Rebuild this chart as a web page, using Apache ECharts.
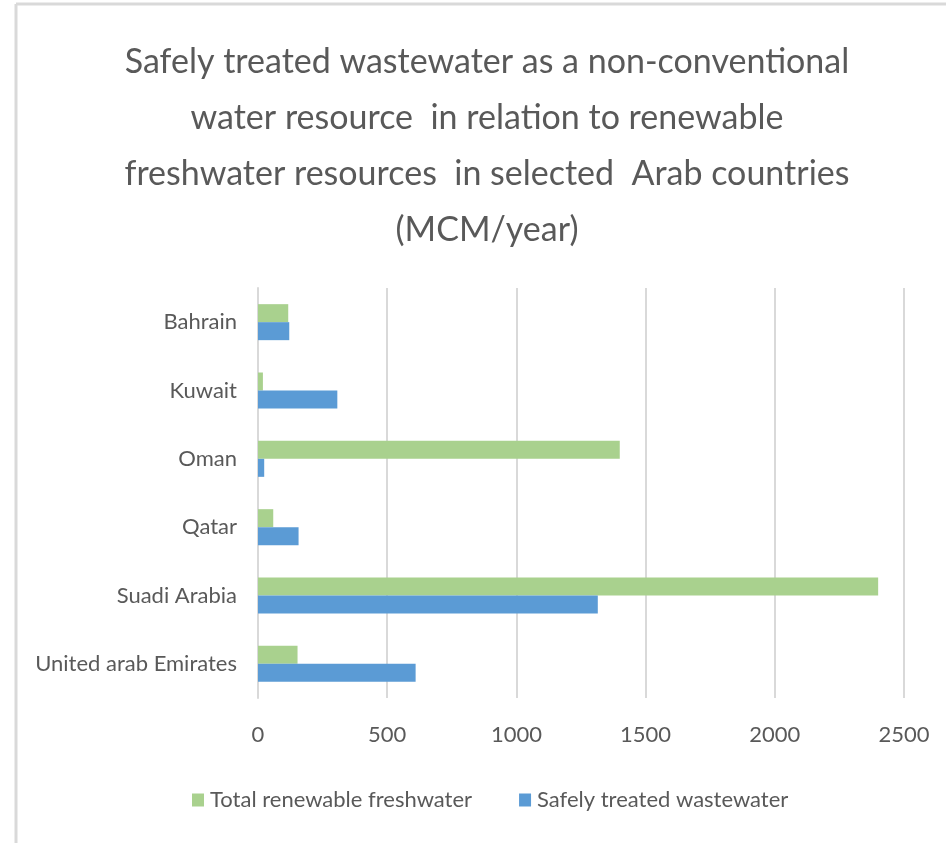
<!DOCTYPE html>
<html>
<head>
<meta charset="utf-8">
<script src="https://cdn.jsdelivr.net/npm/echarts@6/dist/echarts.min.js"></script>
<style>
  html, body { margin: 0; padding: 0; background: #ffffff; }
  #chart { width: 946px; height: 843px; }
</style>
</head>
<body>
<div id="chart"></div>
<script>
// Countries, top to bottom
const countries = ['Bahrain', 'Kuwait', 'Oman', 'Qatar', 'Suadi Arabia', 'United arab Emirates'];
// MCM/year
const renewableFreshwater = [117, 19, 1400, 59, 2400, 153];
const treatedWastewater = [121, 307, 24, 157, 1315, 610];
const xTicks = [0, 500, 1000, 1500, 2000, 2500];

const titleLines = [
  'Safely treated wastewater as a non-conventional',
  'water resource  in relation to renewable',
  'freshwater resources  in selected  Arab countries',
  '(MCM/year)'
];

const FONT = 'Lato, "Liberation Sans", Arial, sans-serif';
const TEXT = '#595959';

const chart = echarts.init(document.getElementById('chart'), null, { renderer: 'canvas' });
chart.setOption({
  backgroundColor: '#ffffff',
  animation: false,
  legend: {
    bottom: 27,
    left: 187,
    itemWidth: 12,
    itemHeight: 13,
    itemGap: 47,
    icon: 'rect',
    textStyle: { fontFamily: FONT, fontSize: 22, color: TEXT, padding: [0, 0, 0, 1] },
    data: ['Total renewable freshwater', 'Safely treated wastewater']
  },
  grid: { left: 258, right: 42, top: 288, bottom: 145, containLabel: false },
  xAxis: {
    type: 'value',
    min: xTicks[0],
    max: xTicks[xTicks.length - 1],
    interval: 500,
    axisLine: { show: false },
    axisTick: { show: false },
    splitLine: { lineStyle: { color: '#d9d9d9', width: 2 } },
    axisLabel: { fontFamily: FONT, fontSize: 22, color: TEXT, margin: 26, formatter: v => String(v) }
  },
  yAxis: {
    type: 'category',
    inverse: true,
    data: countries,
    axisLine: { show: true, lineStyle: { color: '#d9d9d9', width: 2 } },
    axisTick: { show: false },
    axisLabel: { fontFamily: FONT, fontSize: 22, color: TEXT, margin: 21 }
  },
  series: [
    {
      name: 'Total renewable freshwater',
      type: 'bar',
      data: renewableFreshwater,
      barWidth: 18,
      barGap: '0%',
      itemStyle: { color: '#a9d18e' }
    },
    {
      name: 'Safely treated wastewater',
      type: 'bar',
      data: treatedWastewater,
      barWidth: 18,
      barGap: '0%',
      itemStyle: { color: '#5b9bd5' }
    }
  ],
  graphic: [
    { type: 'line', shape: { x1: 16, y1: 4, x2: 946, y2: 4 }, style: { stroke: '#d9d9d9', lineWidth: 3 } },
    { type: 'line', shape: { x1: 16, y1: 4, x2: 16, y2: 843 }, style: { stroke: '#d9d9d9', lineWidth: 3 } },
    {
      // chart title, centred over the plot
      type: 'text',
      x: 487,
      y: 34,
      style: {
        text: titleLines.join('\n'),
        fontFamily: FONT,
        fontSize: 34,
        lineHeight: 56,
        fill: TEXT,
        align: 'center',
        verticalAlign: 'top'
      }
    }
  ]
});
</script>
</body>
</html>
